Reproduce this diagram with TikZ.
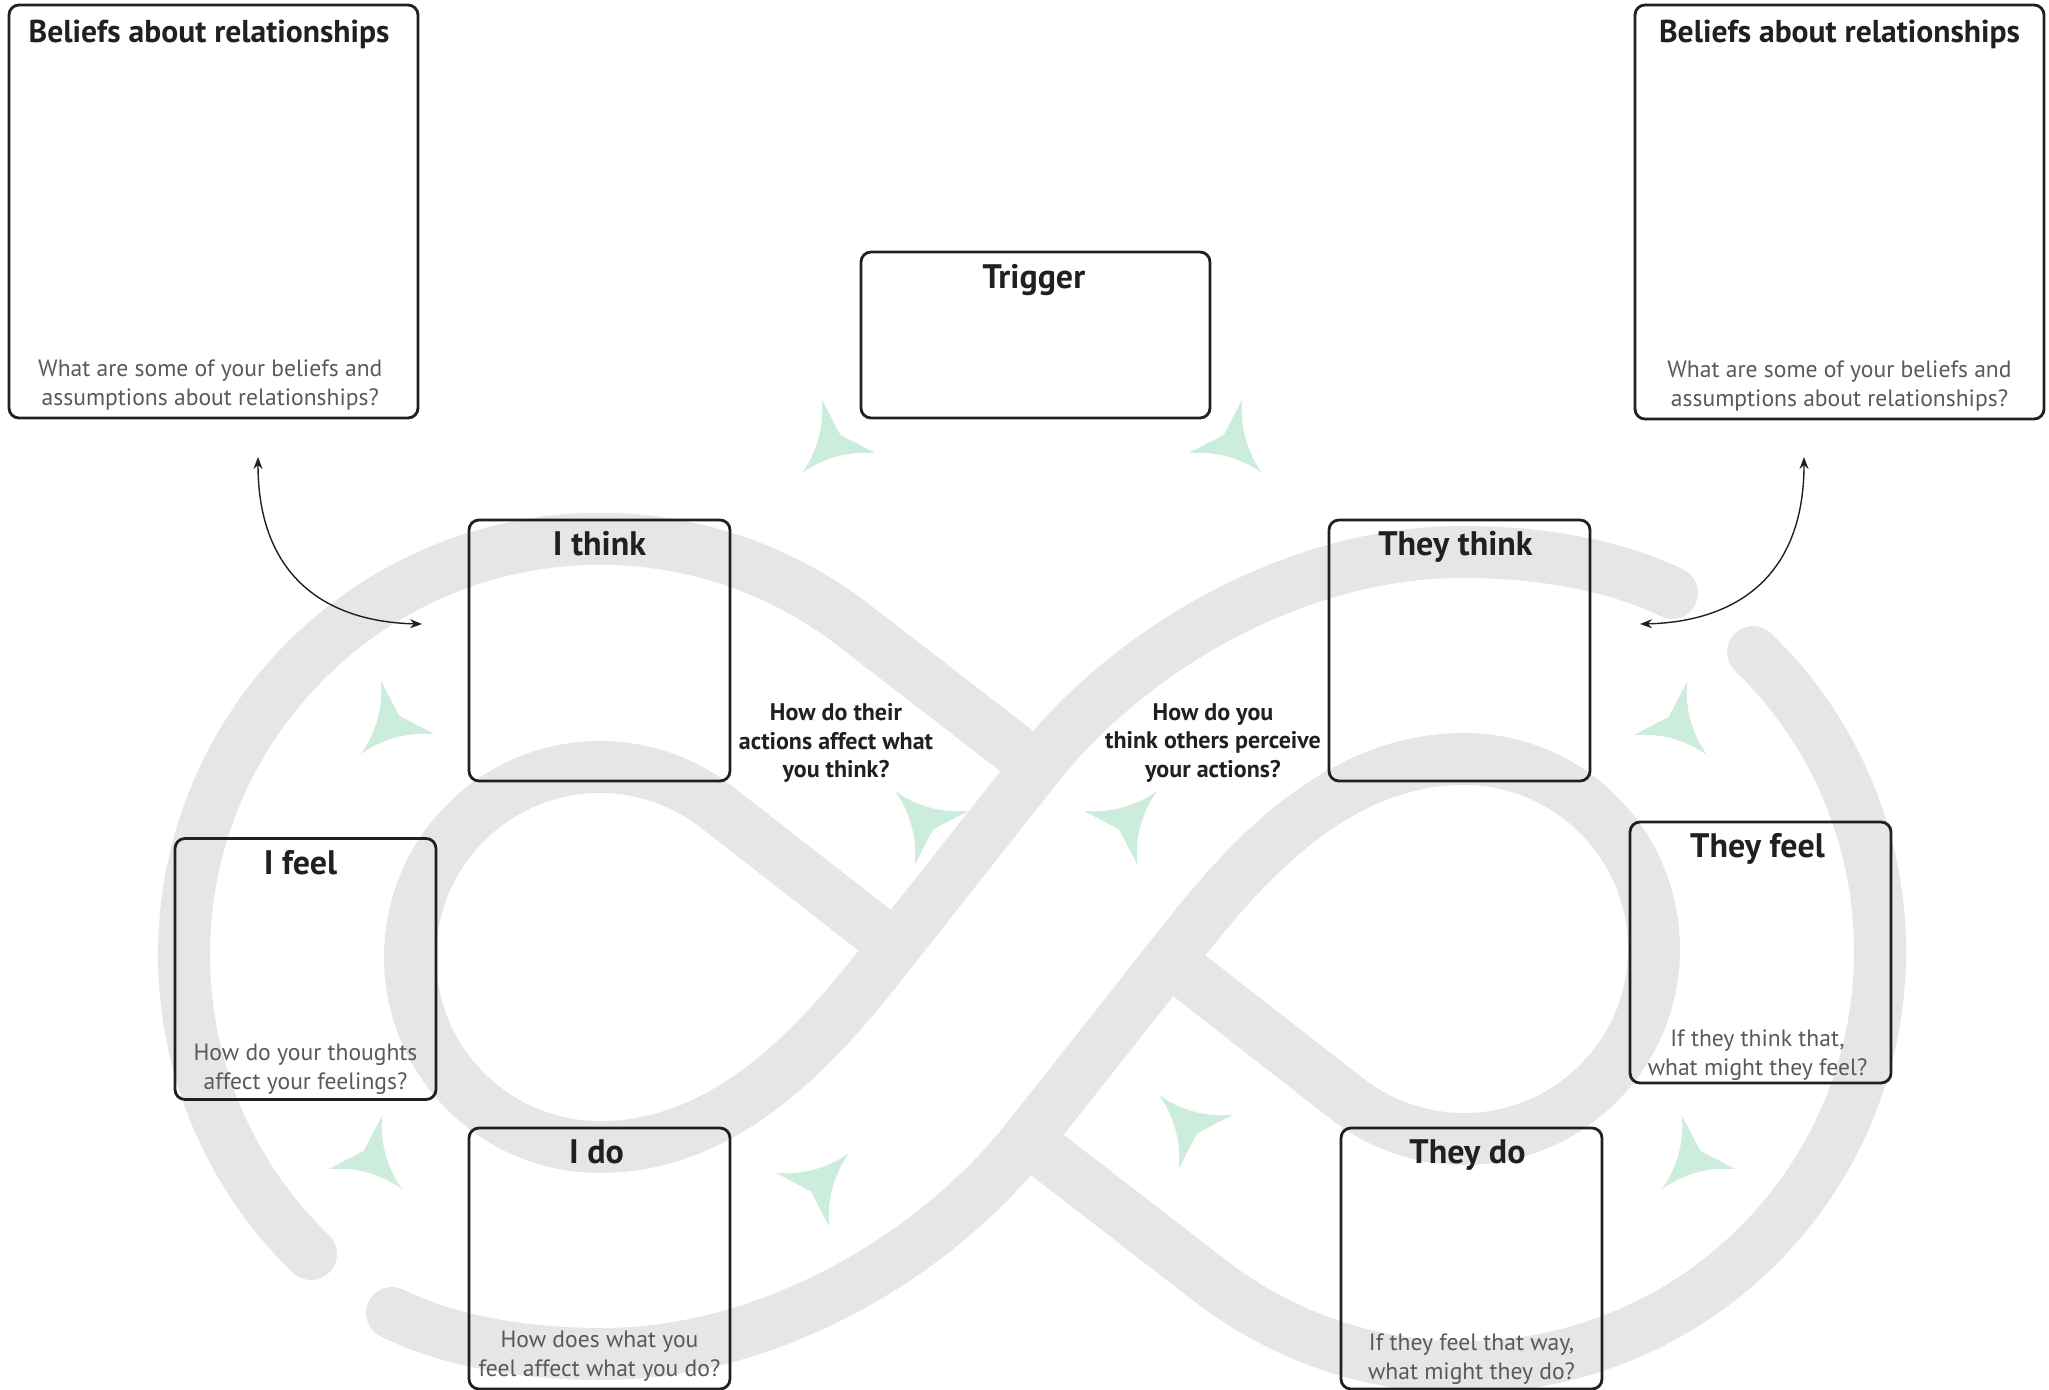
\documentclass[tikz,border=0pt]{standalone}
\usepackage{fontspec}
\setmainfont{PT Sans}
\usetikzlibrary{arrows.meta,positioning,calc}

\definecolor{bandgray}{RGB}{230,230,230}
\definecolor{mint}{RGB}{204,236,220}
\definecolor{ink}{RGB}{35,31,32}
\definecolor{hintgray}{RGB}{88,89,91}

\tikzset{
  band/.style={line width=26pt, draw=bandgray, line cap=round},
  card/.style={draw=ink, line width=1.4pt, rounded corners=5pt, minimum width=130.5pt, minimum height=130.5pt, inner sep=0pt},
  head/.style={font=\bfseries\fontsize{17}{20}\selectfont, text=ink, inner sep=0pt, anchor=base},
  hint/.style={font=\fontsize{11.8}{14.4}\selectfont, text=hintgray, align=center, inner sep=0pt, anchor=south},
  ask/.style={font=\bfseries\fontsize{12}{14.4}\selectfont, text=ink, align=center, inner sep=0pt},
  link/.style={draw=ink, line width=0.7pt, {Stealth[length=6pt,width=4.5pt]}-{Stealth[length=6pt,width=4.5pt]}},
  flow/.pic={\fill[mint] (0,0) .. controls (-26,-4.5) and (-48.7,-17.2) .. (-66,-38) -- (-54,0) -- (-66,38) .. controls (-48.7,17.2) and (-26,4.5) .. (0,0) -- cycle;}
}

\begin{document}
\begin{tikzpicture}[x=0.5pt, y=-0.5pt]
\useasboundingbox (0,0) rectangle (2049,1390);

% grey loops (second copy turned round the middle)
\foreach \r in {0,180} {
  \draw[band, rotate around={\r:(1032,953)}] (311,1254) arc[start angle=134, end angle=307.7, radius=416] -- (1027,759);
  \draw[band, rotate around={\r:(1032,953)}] (1672,593) .. controls (1630,572) and (1560,552) .. (1462,552)
    .. controls (1294,552) and (1129,650) .. (1036,768) -- (893,949)
    .. controls (831,1028) and (737,1147) .. (600,1147)
    arc[start angle=90, end angle=307.7, radius=190] -- (886,939);
}

% green turning arrows
\foreach \x/\y/\a in {802/473/225, 1262/473/315, 361/754/225, 402/1189/315, 849/1153/45,
                      895/791/135, 1157/791/45, 1707/755/315, 1662/1189/225, 1159/1095/135}
  \pic[rotate=\a] at (\x,\y) {flow};

% boxes
\node[card, minimum width=204.5pt, minimum height=206.5pt] (beliefl) at (213.5,211.5) {};
\node[card, minimum width=204.5pt, minimum height=207pt] (beliefr) at (1839.5,212) {};
\node[card, minimum width=174.5pt, minimum height=83pt] (trigger) at (1035.5,335) {};
\node[card] (ithink) at (599.5,650.5) {};
\node[card] (theythink) at (1459.5,650.5) {};
\node[card] (ifeel) at (305.5,969) {};
\node[card] (theyfeel) at (1760.5,952.5) {};
\node[card] (ido) at (599.5,1258.5) {};
\node[card] (theydo) at (1471.5,1258.5) {};

% titles
\node[head, font=\bfseries\fontsize{15.8}{18}\selectfont] (beliefltitle) at ([xshift=-2.2pt,yshift=-19.5pt]beliefl.north) {Beliefs about relationships};
\node[head, font=\bfseries\fontsize{15.8}{18}\selectfont] (beliefrtitle) at ([yshift=-19.5pt]beliefr.north) {Beliefs about relationships};
\node[head] (triggertitle) at ([xshift=-0.8pt,yshift=-19pt]trigger.north) {Trigger};
\node[head] (ithinktitle) at ([yshift=-18.5pt]ithink.north) {I think};
\node[head] (theythinktitle) at ([xshift=-2pt,yshift=-18.5pt]theythink.north) {They think};
\node[head] (ifeeltitle) at ([xshift=-2.5pt,yshift=-18.5pt]ifeel.north) {I feel};
\node[head] (theyfeeltitle) at ([xshift=-1.5pt,yshift=-18.5pt]theyfeel.north) {They feel};
\node[head] (idotitle) at ([xshift=-1.5pt,yshift=-18.5pt]ido.north) {I do};
\node[head] (theydotitle) at ([xshift=-2pt,yshift=-18.5pt]theydo.north) {They do};

% prompts
\node[hint] (belieflhint) at ([xshift=-1.6pt,yshift=4.5pt]beliefl.south) {What are some of your beliefs and\\assumptions about relationships?};
\node[hint] (beliefrhint) at ([yshift=4.5pt]beliefr.south) {What are some of your beliefs and\\assumptions about relationships?};
\node[hint] (ifeelhint) at ([yshift=3pt]ifeel.south) {How do your thoughts\\affect your feelings?};
\node[hint] (idohint) at ([yshift=4.5pt]ido.south) {How does what you\\feel affect what you do?};
\node[hint] (theyfeelhint) at ([xshift=-1.5pt,yshift=2pt]theyfeel.south) {If they think that,\\what might they feel?};
\node[hint] (theydohint) at ([yshift=2.7pt]theydo.south) {If they feel that way,\\what might they do?};

\node[ask] (askthem) at (836,743) {How do their\\actions affect what\\you think?};
\node[ask] (askyou) at (1213,743) {How do you\\think others perceive\\your actions?};

% links to the beliefs boxes
\coordinate (lup) at (258,457);
\coordinate (lin) at (422,624);
\coordinate (rup) at (1804,457);
\coordinate (rin) at (1640,624);
\draw[link] (lup) .. controls (258,580) and (330,622) .. (lin);
\draw[link] (rup) .. controls (1804,580) and (1732,622) .. (rin);

\end{tikzpicture}
\end{document}
